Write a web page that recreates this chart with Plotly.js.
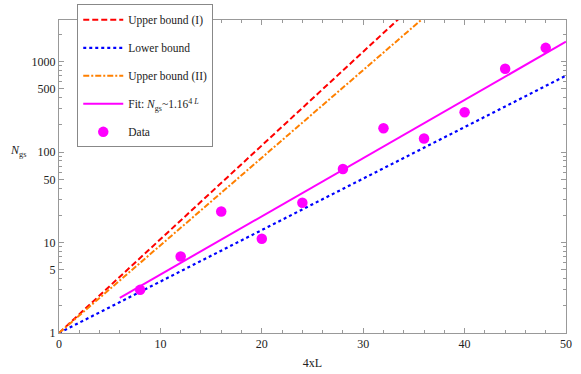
<!DOCTYPE html>
<html><head><meta charset="utf-8">
<script src="https://cdn.plot.ly/plotly-3.0.1.min.js"></script>
<style>html,body{margin:0;padding:0;background:#fff;}#c{width:581px;height:374px;}</style>
</head><body><div id="c"></div>
<script>
// Data
const dataX = [8, 12, 16, 20, 24, 28, 32, 36, 40, 44, 48];
const dataY = [3, 7, 22, 11, 27.5, 65, 183, 141, 275, 835, 1420];
// Line endpoints (straight on log axis)
const upper1X = [0, 40];
const upper1Y = [1, 14000];
const lowerX = [0, 50];
const lowerY = [1, 700];
const upper2X = [0, 40];
const upper2Y = [1, 7500];
const fitX = [6, 50];
const fitY = [2.45, 1660];
const names = ["Upper bound (I)", "Lower bound", "Upper bound (II)", "Fit: <i>N</i><sub>gs</sub>~1.16<sup>4 <i>L</i></sup>", "Data"];

const traces = [
  {x: upper1X, y: upper1Y, mode: 'lines', name: names[0], legendgroup: 'a', line: {color: '#ff0000', width: 2, dash: '6px,3px'}},
  {x: lowerX, y: lowerY, mode: 'lines', name: names[1], legendgroup: 'b', line: {color: '#0000ff', width: 2.2, dash: 'dot'}},
  {x: upper2X, y: upper2Y, mode: 'lines', name: names[2], legendgroup: 'c', line: {color: '#ff8000', width: 2, dash: '6px,2px,2px,2px'}},
  {x: fitX, y: fitY, mode: 'lines', name: names[3], legendgroup: 'd', line: {color: '#ff00ff', width: 2}},
  {x: dataX, y: dataY, mode: 'markers', name: names[4], legendgroup: 'e', marker: {color: '#ff00ff', size: 10.5}}
];

const minorY = [];
[1, 10, 100, 1000].forEach(d => { for (let k = 2; k <= 9; k++) if (k !== 5) minorY.push(k * d); });

const tf = {family: 'Liberation Serif, Times New Roman, serif', size: 12, color: '#222'};
const layout = {
  width: 581, height: 374,
  margin: {l: 59, r: 15, t: 20, b: 41, autoexpand: false},
  paper_bgcolor: '#fff', plot_bgcolor: '#fff',
  font: tf,
  showlegend: true,
  legend: {x: 0.036, y: 1.05, xanchor: 'left', yanchor: 'top', bgcolor: '#fff', bordercolor: '#888', borderwidth: 1,
           font: {family: 'Liberation Serif, serif', size: 11.5, color: '#222'}, tracegroupgap: 9, itemwidth: 40},
  xaxis: {range: [0, 50], showgrid: false, zeroline: false, showline: true, linecolor: '#999', linewidth: 1, mirror: 'allticks',
          ticks: 'inside', ticklen: 5, tickcolor: '#999', tickvals: [0, 10, 20, 30, 40, 50], tickfont: tf,
          minor: {tickvals: [2,4,6,8,12,14,16,18,22,24,26,28,32,34,36,38,42,44,46,48], ticklen: 3, tickcolor: '#999', ticks: 'inside'},
          title: {text: '4xL', font: tf, standoff: 8}},
  yaxis: {type: 'log', range: [0, 3.46], showgrid: false, zeroline: false, showline: true, linecolor: '#999', linewidth: 1, mirror: 'allticks',
          ticks: 'inside', ticklen: 5, tickcolor: '#999', tickvals: [1, 5, 10, 50, 100, 500, 1000], ticktext: ['1','5','10','50','100','500','1000'], tickfont: tf,
          minor: {tickvals: minorY, ticklen: 3, tickcolor: '#999', ticks: 'inside'}},
  annotations: [{text: '<i>N</i><sub>gs</sub>', xref: 'paper', yref: 'paper', x: -0.08, y: 0.58, xanchor: 'center', yanchor: 'middle', showarrow: false, font: tf}]
};
Plotly.newPlot('c', traces, layout, {displayModeBar: false, staticPlot: true});
</script>
</body></html>
